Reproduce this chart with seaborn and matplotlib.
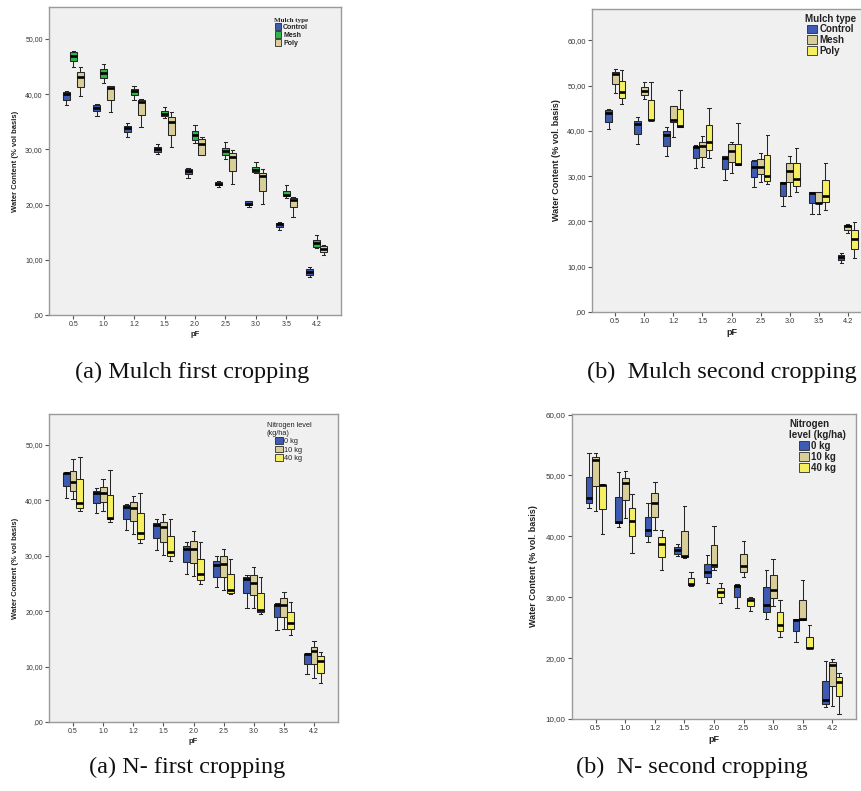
import numpy as np
import pandas as pd
import matplotlib
matplotlib.use("Agg")
import matplotlib.pyplot as plt
from matplotlib.patches import Patch
import seaborn as sns

plt.rcParams["font.family"] = ["Liberation Sans", "DejaVu Sans"]

pf_levels = ["0.5", "1.0", "1.2", "1.5", "2.0", "2.5", "3.0", "3.5", "4.2"]

# Five-number summaries per box: (lower whisker, Q1, median, Q3, upper whisker)
# (a) Mulch first cropping
m1_control = [(38.0, 39.0, 40.0, 40.4, 40.6), (36.1, 36.9, 37.5, 38.0, 38.2), (32.3, 33.2, 33.8, 34.3, 34.7),
              (29.1, 29.5, 30.1, 30.5, 31.0), (24.8, 25.6, 26.1, 26.4, 26.6), (23.2, 23.5, 23.8, 24.1, 24.3),
              (19.5, 19.9, 20.2, 20.6, 20.7), (15.4, 16.0, 16.4, 16.7, 16.9), (6.9, 7.3, 7.8, 8.3, 8.7)]
m1_mesh = [(45.0, 46.0, 47.0, 47.6, 47.9), (42.1, 42.9, 43.9, 44.6, 45.5), (38.9, 39.9, 40.6, 41.0, 41.4),
           (35.6, 36.0, 36.5, 36.9, 37.6), (31.1, 31.7, 32.6, 33.4, 34.4), (28.3, 28.9, 29.7, 30.3, 31.3),
           (25.7, 25.9, 26.3, 26.8, 27.8), (21.2, 21.5, 21.7, 22.5, 23.5), (12.2, 12.4, 13.0, 13.6, 14.5)]
m1_poly = [(39.6, 41.3, 43.2, 44.1, 45.0), (36.7, 39.0, 41.1, 41.4, 41.5), (34.0, 36.2, 38.6, 38.9, 39.2),
           (30.5, 32.7, 35.0, 35.9, 36.7), (28.9, 28.9, 31.0, 31.8, 32.3), (23.8, 26.1, 28.7, 29.3, 29.9),
           (20.2, 22.5, 25.1, 25.7, 26.5), (17.8, 19.5, 20.9, 21.2, 21.4), (10.8, 11.4, 12.0, 12.5, 12.7)]

# (b) Mulch second cropping
m2_control = [(40.4, 42.0, 44.0, 44.6, 44.9), (37.2, 39.4, 41.6, 42.2, 43.1), (34.4, 36.6, 39.0, 40.0, 40.9),
              (31.9, 34.1, 36.4, 36.7, 36.8), (29.2, 31.5, 34.1, 34.4, 34.5), (27.5, 29.7, 32.0, 33.3, 33.6),
              (23.4, 25.7, 28.4, 28.6, 28.7), (21.6, 24.0, 26.2, 26.4, 26.5), (10.9, 11.5, 12.2, 12.6, 13.1)]
m2_mesh = [(48.4, 50.4, 52.5, 53.0, 53.6), (47.0, 47.9, 48.8, 49.6, 50.8), (38.7, 42.0, 42.3, 45.4, 45.5),
           (32.1, 34.3, 36.7, 37.6, 38.8), (30.8, 33.2, 35.6, 37.0, 37.6), (28.6, 30.5, 32.1, 33.7, 35.2),
           (25.6, 28.6, 31.2, 32.8, 34.4), (21.6, 24.0, 24.1, 26.4, 26.5), (17.4, 18.1, 18.9, 19.2, 19.5)]
m2_poly = [(46.0, 47.3, 48.5, 51.0, 53.5), (42.4, 42.4, 42.5, 46.8, 50.8), (40.9, 40.9, 41.0, 44.9, 49.0),
           (33.9, 35.8, 37.6, 41.3, 45.1), (32.5, 32.5, 32.6, 37.1, 41.8), (28.3, 29.0, 30.1, 34.7, 39.1),
           (26.4, 27.8, 29.4, 32.8, 36.1), (22.5, 24.2, 25.6, 29.1, 33.0), (11.9, 13.9, 16.2, 18.1, 19.8)]

# (a) N- first cropping
n1_0kg = [(40.5, 42.6, 44.9, 45.0, 45.1), (37.8, 39.6, 41.4, 41.7, 42.2), (34.6, 36.7, 38.8, 39.2, 39.3),
          (31.0, 33.3, 35.5, 36.0, 36.7), (26.7, 28.8, 31.3, 31.7, 32.5), (24.4, 26.2, 28.4, 29.1, 29.9),
          (20.5, 23.3, 25.9, 26.1, 26.5), (16.6, 18.9, 21.2, 21.3, 21.4), (8.6, 10.4, 12.2, 12.3, 12.4)]
n1_10kg = [(40.2, 41.7, 43.4, 45.3, 47.4), (38.1, 39.8, 41.3, 42.5, 43.8), (33.9, 36.3, 38.7, 39.8, 40.8),
           (30.1, 32.5, 35.2, 36.1, 37.6), (26.3, 28.7, 31.2, 32.7, 34.5), (23.8, 26.2, 28.6, 29.9, 31.3),
           (20.5, 22.9, 25.1, 26.5, 27.9), (16.7, 18.9, 21.1, 22.3, 23.5), (8.0, 10.4, 12.8, 13.6, 14.6)]
n1_40kg = [(38.0, 38.7, 39.6, 43.8, 47.9), (36.1, 36.6, 36.8, 41.0, 45.5), (32.3, 33.1, 34.2, 37.7, 41.4),
           (29.1, 30.0, 30.6, 33.6, 36.7), (24.9, 25.7, 26.8, 29.5, 32.5), (23.1, 23.2, 23.9, 26.8, 29.5),
           (19.5, 19.8, 20.3, 23.3, 26.1), (15.7, 16.7, 17.9, 19.9, 21.7), (7.0, 8.9, 11.0, 11.9, 12.7)]

# (b) N- second cropping
n2_0kg = [(44.6, 45.5, 46.3, 49.7, 53.7), (41.5, 42.2, 42.3, 46.5, 50.6), (39.0, 40.0, 41.1, 43.2, 45.5),
          (36.8, 37.1, 37.7, 38.2, 38.8), (32.4, 33.3, 34.1, 35.5, 37.0), (28.2, 30.0, 31.8, 32.0, 32.1),
          (26.4, 27.5, 28.8, 31.7, 34.5), (22.7, 24.5, 26.3, 26.4, 26.5), (11.9, 12.5, 13.1, 16.3, 19.6)]
n2_10kg = [(44.1, 48.2, 52.5, 53.0, 53.7), (43.0, 45.9, 48.8, 49.6, 50.7), (41.1, 43.2, 45.5, 47.1, 49.0),
           (36.5, 36.6, 36.7, 40.9, 45.0), (34.4, 34.9, 35.3, 38.6, 41.7), (33.4, 34.1, 35.1, 37.1, 39.2),
           (28.5, 29.8, 31.2, 33.7, 36.2), (26.3, 26.3, 26.4, 29.6, 32.9), (12.1, 15.5, 18.9, 19.3, 19.8)]
n2_40kg = [(40.4, 44.5, 48.4, 48.5, 48.6), (37.2, 40.0, 42.6, 44.6, 47.0), (34.4, 36.6, 38.8, 39.9, 41.0),
           (31.9, 32.0, 32.2, 33.1, 34.1), (29.1, 30.0, 30.9, 31.5, 32.4), (27.7, 28.6, 29.5, 29.8, 30.0),
           (23.4, 24.4, 25.5, 27.5, 29.5), (21.6, 21.6, 21.7, 23.5, 25.5), (10.9, 13.7, 16.1, 16.9, 17.5)]

mulch_groups = ["Control", "Mesh", "Poly"]
nitro_groups = ["0 kg", "10 kg", "40 kg"]

yt_50 = [0, 10, 20, 30, 40, 50]
yt_50_labels = [",00", "10,00", "20,00", "30,00", "40,00", "50,00"]
yt_60 = [0, 10, 20, 30, 40, 50, 60]
yt_60_labels = [",00", "10,00", "20,00", "30,00", "40,00", "50,00", "60,00"]
yt_d = [10, 20, 30, 40, 50, 60]
yt_d_labels = ["10,00", "20,00", "30,00", "40,00", "50,00", "60,00"]

BLUE = "#3D5BB3"
GREEN = "#2DB64B"
TAN = "#D8CE9A"
YELLOW = "#F6F060"


def long_df(groups, series):
    rows = []
    for g, boxes in zip(groups, series):
        for lvl, stats in zip(pf_levels, boxes):
            for v in stats:
                rows.append({"pF": lvl, "group": g, "value": v})
    return pd.DataFrame(rows)


W, H = 861, 791
fig = plt.figure(figsize=(W / 100, H / 100), dpi=100)


def axes_px(l, r, t, b):
    return fig.add_axes([l / W, 1 - b / H, (r - l) / W, (b - t) / H])


def draw(ax, df, groups, colors, ylim, yt, ytl, ylabel, ylab_x, ylab_size, tick_size,
         leg_title, leg_anchor, leg_size, leg_bold, leg_title_serif=False):
    ax.set_facecolor("#F0F0F0")
    sns.boxplot(data=df, x="pF", y="value", hue="group", order=pf_levels, hue_order=groups,
                palette=dict(zip(groups, colors)), saturation=1, width=0.68, gap=0,
                whis=(0, 100), showfliers=False, linewidth=0.75, linecolor="#262626",
                medianprops=dict(color="black", linewidth=1.9), legend=False, ax=ax)
    ax.set_xlim(-0.8, 8.8)
    ax.set_ylim(*ylim)
    ax.set_yticks(yt)
    ax.set_yticklabels(ytl)
    ax.set_xticks(range(len(pf_levels)))
    ax.set_xticklabels(pf_levels)
    ax.tick_params(axis="both", length=3, width=0.8, color="#555555", pad=1.5,
                   labelsize=tick_size, labelcolor="#333333")
    for s in ax.spines.values():
        s.set_color("#9a9a9a")
        s.set_linewidth(1.0)
    ax.set_xlabel("pF", fontsize=ylab_size, fontweight="bold", color="#222222")
    ax.xaxis.set_label_coords(0.5, -0.052)
    ax.xaxis.label.set_va("top")
    ax.set_ylabel(ylabel, fontsize=ylab_size, fontweight="bold", color="#222222")
    ax.yaxis.set_label_coords(ylab_x, 0.5)
    handles = [Patch(facecolor=c, edgecolor="#2b2b2b", linewidth=0.6) for c in colors]
    weight = "bold" if leg_bold else "normal"
    leg = ax.legend(handles, groups, title=leg_title, loc="upper center", bbox_to_anchor=leg_anchor,
                    frameon=False, fontsize=leg_size, title_fontsize=leg_size,
                    handlelength=1.0, handleheight=1.0, handletextpad=0.25,
                    labelspacing=0.08, borderpad=0.0, borderaxespad=0.0)
    for t in leg.get_texts():
        t.set_fontweight(weight)
        t.set_color("#222222")
    leg.get_title().set_fontweight(weight)
    leg.get_title().set_color("#222222")
    if leg_title_serif:
        leg.get_title().set_family(["Liberation Serif", "DejaVu Serif"])


# (a) Mulch first cropping
ax1 = axes_px(49, 341, 7, 315)
draw(ax1, long_df(mulch_groups, [m1_control, m1_mesh, m1_poly]), mulch_groups, [BLUE, GREEN, TAN],
     (0, 55.8), yt_50, yt_50_labels, "Water Content (% vol basis)", -0.104, 5.5, 5,
     "Mulch type", (0.83, 0.965), 5, True, leg_title_serif=True)

# (b) Mulch second cropping
ax2 = axes_px(592, 871, 9, 312)
draw(ax2, long_df(mulch_groups, [m2_control, m2_mesh, m2_poly]), mulch_groups, [BLUE, TAN, YELLOW],
     (0, 66.9), yt_60, yt_60_labels, "Water Content (% vol. basis)", -0.111, 6.5, 5.3,
     "Mulch type", (0.855, 0.985), 7, True)

# (a) N- first cropping
ax3 = axes_px(49, 338, 414, 722)
draw(ax3, long_df(nitro_groups, [n1_0kg, n1_10kg, n1_40kg]), nitro_groups, [BLUE, TAN, YELLOW],
     (0, 55.6), yt_50, yt_50_labels, "Water Content (% vol basis)", -0.104, 5.5, 5,
     "Nitrogen level\n(kg/ha)", (0.83, 0.975), 5.3, False)

# (b) N- second cropping
ax4 = axes_px(572, 856, 414, 719)
draw(ax4, long_df(nitro_groups, [n2_0kg, n2_10kg, n2_40kg]), nitro_groups, [BLUE, TAN, YELLOW],
     (10, 60.1), yt_d, yt_d_labels, "Water Content (% vol. basis)", -0.12, 6.5, 5.8,
     "Nitrogen\nlevel (kg/ha)", (0.865, 0.985), 7, True)

serif = ["Liberation Serif", "DejaVu Serif"]
fig.text(192 / W, 1 - 378 / H, "(a) Mulch first cropping", ha="center", va="baseline",
         fontsize=17.5, family=serif, color="#111111")
fig.text(722 / W, 1 - 378 / H, "(b)  Mulch second cropping", ha="center", va="baseline",
         fontsize=17.5, family=serif, color="#111111")
fig.text(187 / W, 1 - 773 / H, "(a) N- first cropping", ha="center", va="baseline",
         fontsize=17.5, family=serif, color="#111111")
fig.text(692 / W, 1 - 773 / H, "(b)  N- second cropping", ha="center", va="baseline",
         fontsize=17.5, family=serif, color="#111111")

fig.savefig("out.png", dpi=100)
